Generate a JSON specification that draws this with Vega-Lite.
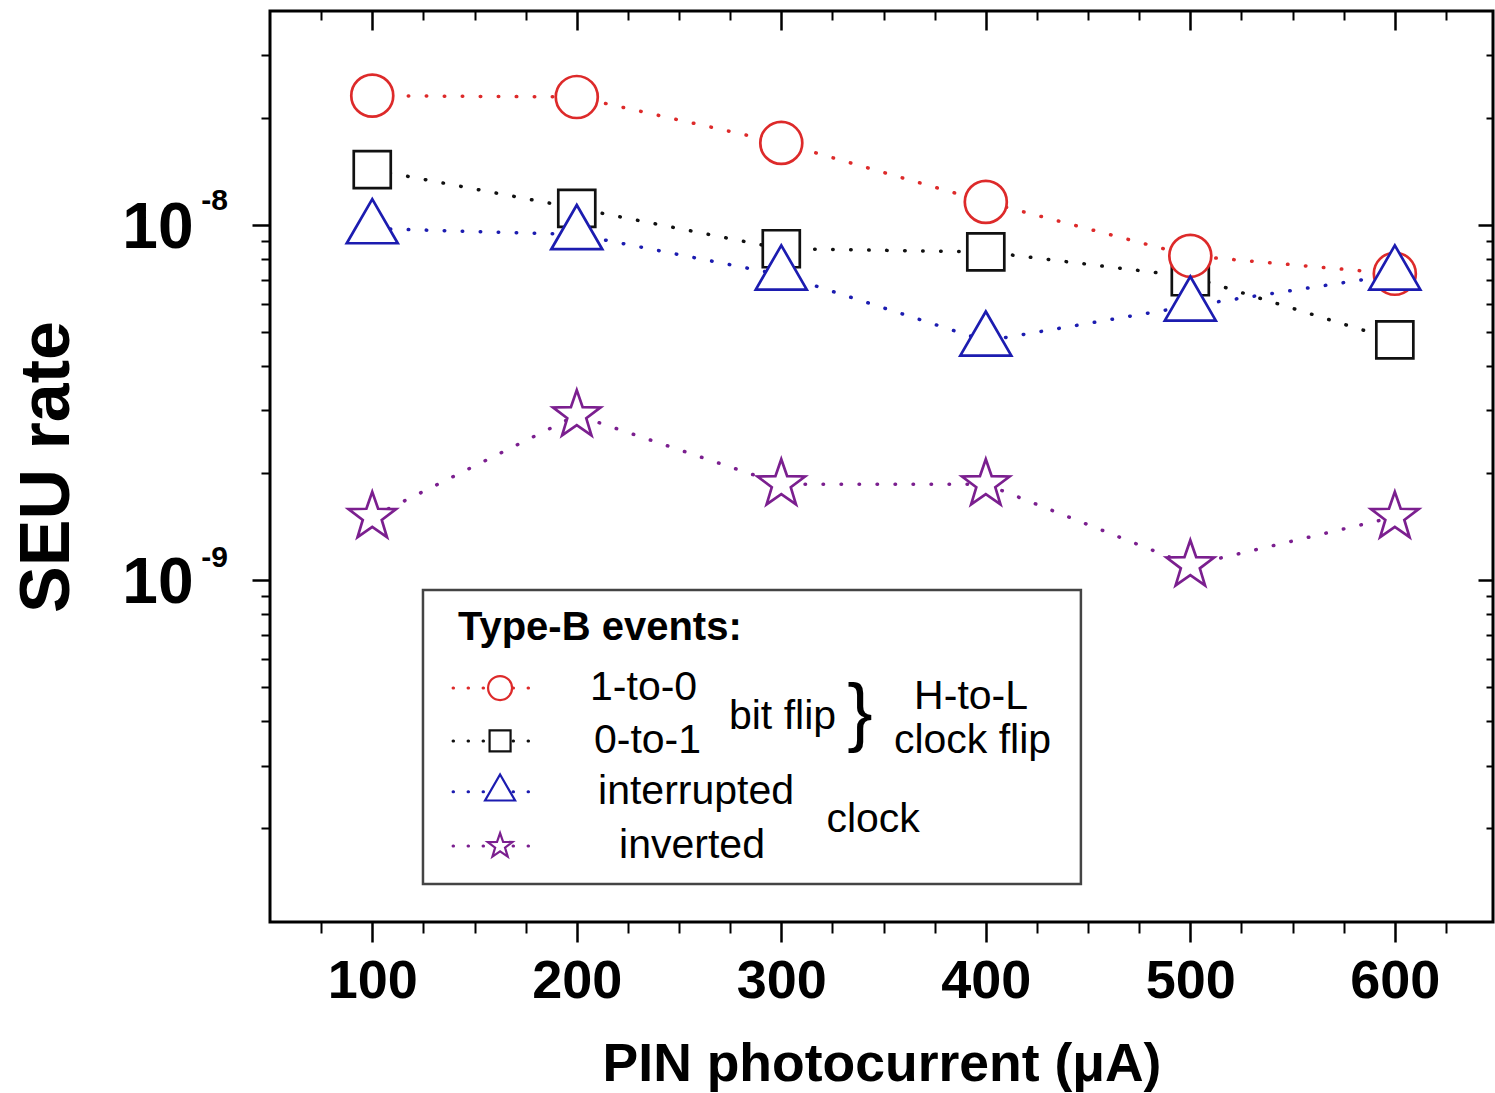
{
  "$schema": "https://vega.github.io/schema/vega-lite/v6.json",
  "width": 1223,
  "height": 911,
  "autosize": {"type": "none"},
  "padding": {"left": 270, "top": 11, "right": 2, "bottom": 171},
  "background": "white",
  "config": {
    "view": {"stroke": "#000", "strokeWidth": 3},
    "axis": {"grid": false, "domain": false, "tickColor": "#000", "labelColor": "#000", "titleColor": "#000", "labelFont": "Liberation Sans", "titleFont": "Liberation Sans"}
  },
  "data": {"values": [{}]},
  "datasets": {
    "seu": [
      {"x": 100, "rate": 1.43e-8, "series": "0-to-1"},
      {"x": 200, "rate": 1.113e-8, "series": "0-to-1"},
      {"x": 300, "rate": 8.56e-9, "series": "0-to-1"},
      {"x": 400, "rate": 8.39e-9, "series": "0-to-1"},
      {"x": 500, "rate": 7.14e-9, "series": "0-to-1"},
      {"x": 600, "rate": 4.74e-9, "series": "0-to-1"},
      {"x": 100, "rate": 2.31e-8, "series": "1-to-0"},
      {"x": 200, "rate": 2.29e-8, "series": "1-to-0"},
      {"x": 300, "rate": 1.70e-8, "series": "1-to-0"},
      {"x": 400, "rate": 1.16e-8, "series": "1-to-0"},
      {"x": 500, "rate": 8.18e-9, "series": "1-to-0"},
      {"x": 600, "rate": 7.28e-9, "series": "1-to-0"},
      {"x": 100, "rate": 9.76e-9, "series": "interrupted"},
      {"x": 200, "rate": 9.39e-9, "series": "interrupted"},
      {"x": 300, "rate": 7.23e-9, "series": "interrupted"},
      {"x": 400, "rate": 4.71e-9, "series": "interrupted"},
      {"x": 500, "rate": 5.91e-9, "series": "interrupted"},
      {"x": 600, "rate": 7.23e-9, "series": "interrupted"},
      {"x": 100, "rate": 1.505e-9, "series": "inverted"},
      {"x": 200, "rate": 2.91e-9, "series": "inverted"},
      {"x": 300, "rate": 1.86e-9, "series": "inverted"},
      {"x": 400, "rate": 1.86e-9, "series": "inverted"},
      {"x": 500, "rate": 1.10e-9, "series": "inverted"},
      {"x": 600, "rate": 1.505e-9, "series": "inverted"}
    ]
  },
  "resolve": {"axis": {"x": "independent", "y": "independent"}},
  "layer": [
    {
      "data": {"name": "seu"},
      "mark": {"type": "line", "strokeDash": [0.5, 17.5], "strokeCap": "round", "strokeWidth": 3.5},
      "encoding": {
        "x": {"field": "x", "type": "quantitative", "scale": {"domain": [50, 648], "nice": false, "zero": false},
          "axis": {"orient": "bottom", "values": [100, 200, 300, 400, 500, 600], "tickSize": 20, "tickWidth": 2.5, "labelFontSize": 54, "labelFontWeight": "bold", "labelPadding": 12, "title": "PIN photocurrent (μA)", "titleFontSize": 53.5, "titleFontWeight": "bold", "titlePadding": 30}},
        "y": {"field": "rate", "type": "quantitative", "scale": {"type": "log", "domain": [1.088e-10, 4e-8], "nice": false},
          "axis": {"orient": "left", "values": [1e-9, 1e-8], "tickSize": 18, "tickWidth": 2.5, "labelFontSize": 64, "labelFontWeight": "bold", "labelPadding": 59, "labelOffset": 4, "labelExpr": "'10'", "title": "SEU rate", "titleFontSize": 70, "titleFontWeight": "bold", "titlePadding": 38}},
        "color": {"field": "series", "type": "nominal", "scale": {"domain": ["1-to-0", "0-to-1", "interrupted", "inverted"], "range": ["#dd2a2a", "#111111", "#1c1cb0", "#7b1f8f"]}, "legend": null}
      }
    },
    {
      "data": {"name": "seu"},
      "transform": [{"filter": "datum.series == '0-to-1'"}],
      "mark": {"type": "point", "shape": "square", "size": 1369, "filled": false, "fill": "white", "fillOpacity": 1, "stroke": "#111111", "strokeWidth": 2.7, "opacity": 1},
      "encoding": {
        "x": {"field": "x", "type": "quantitative", "scale": {"domain": [50, 648], "nice": false, "zero": false},
          "axis": {"orient": "bottom", "values": [75, 125, 150, 175, 225, 250, 275, 325, 350, 375, 425, 450, 475, 525, 550, 575, 625], "tickSize": 11, "tickWidth": 2, "labels": false, "title": null}},
        "y": {"field": "rate", "type": "quantitative", "scale": {"type": "log", "domain": [1.088e-10, 4e-8], "nice": false},
          "axis": {"orient": "left", "values": [2e-10, 3e-10, 4e-10, 5e-10, 6e-10, 7e-10, 8e-10, 9e-10, 2e-9, 3e-9, 4e-9, 5e-9, 6e-9, 7e-9, 8e-9, 9e-9, 2e-8, 3e-8], "tickSize": 9, "tickWidth": 2, "labels": false, "title": null}}
      }
    },
    {
      "data": {"name": "seu"},
      "transform": [{"filter": "datum.series == '1-to-0'"}],
      "mark": {"type": "point", "shape": "circle", "size": 1764, "filled": false, "fill": "white", "fillOpacity": 1, "stroke": "#dd2a2a", "strokeWidth": 2.7, "opacity": 1},
      "encoding": {
        "x": {"field": "x", "type": "quantitative", "axis": null},
        "y": {"field": "rate", "type": "quantitative", "axis": null}
      }
    },
    {
      "data": {"name": "seu"},
      "transform": [{"filter": "datum.series == 'interrupted'"}],
      "mark": {"type": "point", "shape": "M0,-1.155L1,0.577L-1,0.577Z", "size": 2601, "filled": false, "fill": "white", "fillOpacity": 1, "stroke": "#1c1cb0", "strokeWidth": 2.7, "opacity": 1},
      "encoding": {
        "x": {"field": "x", "type": "quantitative", "axis": null},
        "y": {"field": "rate", "type": "quantitative", "axis": null}
      }
    },
    {
      "data": {"name": "seu"},
      "transform": [{"filter": "datum.series == 'inverted'"}],
      "mark": {"type": "point", "shape": "M0,-1L0.235,-0.324L0.951,-0.309L0.38,0.124L0.588,0.809L0,0.4L-0.588,0.809L-0.38,0.124L-0.951,-0.309L-0.235,-0.324Z", "size": 2500, "filled": false, "fill": "white", "fillOpacity": 1, "stroke": "#7b1f8f", "strokeWidth": 2.7, "opacity": 1},
      "encoding": {
        "x": {"field": "x", "type": "quantitative", "axis": null},
        "y": {"field": "rate", "type": "quantitative", "axis": null}
      }
    },
    {
      "mark": {"type": "rect", "fill": "white", "stroke": "#444", "strokeWidth": 2.5},
      "encoding": {
        "x": {"datum": 124.8, "type": "quantitative", "scale": {"domain": [50, 648], "nice": false, "zero": false},
          "axis": {"orient": "top", "values": [100, 200, 300, 400, 500, 600], "tickSize": -19, "tickWidth": 2.5, "labels": false, "title": null}},
        "x2": {"datum": 446.5},
        "y": {"datum": 9.37e-10, "type": "quantitative", "scale": {"type": "log", "domain": [1.088e-10, 4e-8], "nice": false},
          "axis": {"orient": "right", "values": [1e-9, 1e-8], "tickSize": -15, "tickWidth": 2.5, "labels": false, "title": null}},
        "y2": {"datum": 1.392e-10}
      }
    },
    {
      "mark": {"type": "text", "text": "Type-B events:", "align": "left", "baseline": "middle", "font": "Liberation Sans", "fontSize": 40, "fontWeight": "bold", "color": "#000"},
      "encoding": {
        "x": {"datum": 141.9, "type": "quantitative", "scale": {"domain": [50, 648], "nice": false, "zero": false},
          "axis": {"orient": "top", "values": [75, 125, 150, 175, 225, 250, 275, 325, 350, 375, 425, 450, 475, 525, 550, 575, 625], "tickSize": -9, "tickWidth": 2, "labels": false, "title": null}},
        "y": {"datum": 7.32e-10, "type": "quantitative", "scale": {"type": "log", "domain": [1.088e-10, 4e-8], "nice": false},
          "axis": {"orient": "right", "values": [2e-10, 3e-10, 4e-10, 5e-10, 6e-10, 7e-10, 8e-10, 9e-10, 2e-9, 3e-9, 4e-9, 5e-9, 6e-9, 7e-9, 8e-9, 9e-9, 2e-8, 3e-8], "tickSize": -7, "tickWidth": 2, "labels": false, "title": null}}
      }
    },
    {
      "mark": {"type": "text", "text": "-8", "align": "right", "baseline": "middle", "font": "Liberation Sans", "fontSize": 30, "fontWeight": "bold", "color": "#000", "dx": -42, "dy": -24},
      "encoding": {"x": {"datum": 50, "type": "quantitative", "axis": null}, "y": {"datum": 1e-8, "type": "quantitative", "axis": null}}
    },
    {
      "mark": {"type": "text", "text": "-9", "align": "right", "baseline": "middle", "font": "Liberation Sans", "fontSize": 30, "fontWeight": "bold", "color": "#000", "dx": -42, "dy": -22},
      "encoding": {"x": {"datum": 50, "type": "quantitative", "axis": null}, "y": {"datum": 1e-9, "type": "quantitative", "axis": null}}
    },
    {
      "mark": {"type": "rule", "strokeDash": [0.5, 14.5], "strokeCap": "round", "strokeWidth": 3, "color": "#dd2a2a"},
      "encoding": {"x": {"datum": 139.5, "type": "quantitative", "axis": null}, "x2": {"datum": 182}, "y": {"datum": 4.96e-10, "type": "quantitative", "axis": null}}
    },
    {
      "mark": {"type": "rule", "strokeDash": [0.5, 14.5], "strokeCap": "round", "strokeWidth": 3, "color": "#111111"},
      "encoding": {"x": {"datum": 139.5, "type": "quantitative", "axis": null}, "x2": {"datum": 182}, "y": {"datum": 3.52e-10, "type": "quantitative", "axis": null}}
    },
    {
      "mark": {"type": "rule", "strokeDash": [0.5, 14.5], "strokeCap": "round", "strokeWidth": 3, "color": "#1c1cb0"},
      "encoding": {"x": {"datum": 139.5, "type": "quantitative", "axis": null}, "x2": {"datum": 182}, "y": {"datum": 2.53e-10, "type": "quantitative", "axis": null}}
    },
    {
      "mark": {"type": "rule", "strokeDash": [0.5, 14.5], "strokeCap": "round", "strokeWidth": 3, "color": "#7b1f8f"},
      "encoding": {"x": {"datum": 139.5, "type": "quantitative", "axis": null}, "x2": {"datum": 182}, "y": {"datum": 1.78e-10, "type": "quantitative", "axis": null}}
    },
    {
      "mark": {"type": "point", "shape": "circle", "size": 576, "filled": false, "fill": "white", "fillOpacity": 1, "stroke": "#dd2a2a", "strokeWidth": 2.2, "opacity": 1},
      "encoding": {"x": {"datum": 162.5, "type": "quantitative", "axis": null}, "y": {"datum": 4.96e-10, "type": "quantitative", "axis": null}}
    },
    {
      "mark": {"type": "point", "shape": "square", "size": 441, "filled": false, "fill": "white", "fillOpacity": 1, "stroke": "#111111", "strokeWidth": 2.2, "opacity": 1},
      "encoding": {"x": {"datum": 162.5, "type": "quantitative", "axis": null}, "y": {"datum": 3.52e-10, "type": "quantitative", "axis": null}}
    },
    {
      "mark": {"type": "point", "shape": "M0,-1.155L1,0.577L-1,0.577Z", "size": 900, "filled": false, "fill": "white", "fillOpacity": 1, "stroke": "#1c1cb0", "strokeWidth": 2.2, "opacity": 1},
      "encoding": {"x": {"datum": 162.5, "type": "quantitative", "axis": null}, "y": {"datum": 2.53e-10, "type": "quantitative", "axis": null}}
    },
    {
      "mark": {"type": "point", "shape": "M0,-1L0.235,-0.324L0.951,-0.309L0.38,0.124L0.588,0.809L0,0.4L-0.588,0.809L-0.38,0.124L-0.951,-0.309L-0.235,-0.324Z", "size": 676, "filled": false, "fill": "white", "fillOpacity": 1, "stroke": "#7b1f8f", "strokeWidth": 2.2, "opacity": 1},
      "encoding": {"x": {"datum": 162.5, "type": "quantitative", "axis": null}, "y": {"datum": 1.78e-10, "type": "quantitative", "axis": null}}
    },
    {
      "mark": {"type": "text", "text": "1-to-0", "align": "left", "baseline": "middle", "font": "Liberation Sans", "fontSize": 41, "color": "#000"},
      "encoding": {"x": {"datum": 206.5, "type": "quantitative", "axis": null}, "y": {"datum": 4.96e-10, "type": "quantitative", "axis": null}}
    },
    {
      "mark": {"type": "text", "text": "0-to-1", "align": "left", "baseline": "middle", "font": "Liberation Sans", "fontSize": 41, "color": "#000"},
      "encoding": {"x": {"datum": 208.4, "type": "quantitative", "axis": null}, "y": {"datum": 3.52e-10, "type": "quantitative", "axis": null}}
    },
    {
      "mark": {"type": "text", "text": "interrupted", "align": "left", "baseline": "middle", "font": "Liberation Sans", "fontSize": 41, "color": "#000"},
      "encoding": {"x": {"datum": 210.4, "type": "quantitative", "axis": null}, "y": {"datum": 2.53e-10, "type": "quantitative", "axis": null}}
    },
    {
      "mark": {"type": "text", "text": "inverted", "align": "left", "baseline": "middle", "font": "Liberation Sans", "fontSize": 41, "color": "#000"},
      "encoding": {"x": {"datum": 220.7, "type": "quantitative", "axis": null}, "y": {"datum": 1.78e-10, "type": "quantitative", "axis": null}}
    },
    {
      "mark": {"type": "text", "text": "bit flip", "align": "left", "baseline": "middle", "font": "Liberation Sans", "fontSize": 41, "color": "#000"},
      "encoding": {"x": {"datum": 274.4, "type": "quantitative", "axis": null}, "y": {"datum": 4.11e-10, "type": "quantitative", "axis": null}}
    },
    {
      "mark": {"type": "text", "text": "}", "align": "center", "baseline": "middle", "font": "Liberation Sans", "fontSize": 76, "color": "#000", "dy": -3},
      "encoding": {"x": {"datum": 338.5, "type": "quantitative", "axis": null}, "y": {"datum": 4.11e-10, "type": "quantitative", "axis": null}}
    },
    {
      "mark": {"type": "text", "text": "H-to-L", "align": "center", "baseline": "middle", "font": "Liberation Sans", "fontSize": 41, "color": "#000"},
      "encoding": {"x": {"datum": 392.8, "type": "quantitative", "axis": null}, "y": {"datum": 4.68e-10, "type": "quantitative", "axis": null}}
    },
    {
      "mark": {"type": "text", "text": "clock flip", "align": "center", "baseline": "middle", "font": "Liberation Sans", "fontSize": 41, "color": "#000"},
      "encoding": {"x": {"datum": 393.5, "type": "quantitative", "axis": null}, "y": {"datum": 3.52e-10, "type": "quantitative", "axis": null}}
    },
    {
      "mark": {"type": "text", "text": "clock", "align": "center", "baseline": "middle", "font": "Liberation Sans", "fontSize": 41, "color": "#000"},
      "encoding": {"x": {"datum": 344.9, "type": "quantitative", "axis": null}, "y": {"datum": 2.11e-10, "type": "quantitative", "axis": null}}
    }
  ]
}
